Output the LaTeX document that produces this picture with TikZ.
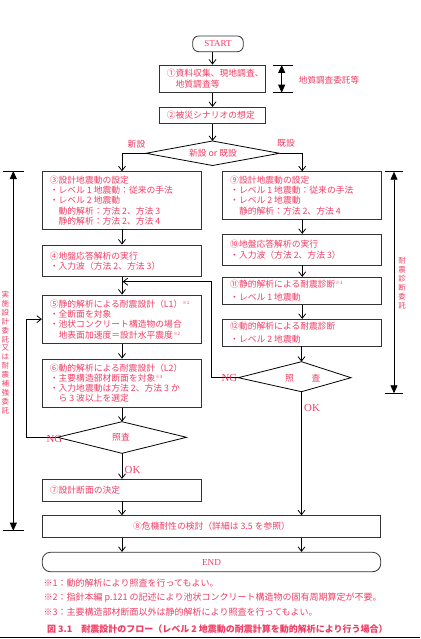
\documentclass[tikz,border=0pt]{standalone}
\usepackage{fontspec}
\setmainfont{Liberation Serif}
\newfontfamily\jp{Noto Sans CJK JP}
\usetikzlibrary{arrows.meta}
\definecolor{labred}{RGB}{240,60,100}
\newcommand{\kome}[1]{\raisebox{3pt}{\fontsize{4.5}{5}\selectfont ※#1}}

\tikzset{every picture/.style={line width=0.8pt}}

\begin{document}
\begin{tikzpicture}[x=1pt,y=1pt,yscale=-1,
  box/.style={draw=black!80, inner sep=0pt},
  txt/.style={text=labred, font=\jp\fontsize{8.8}{10.3}\selectfont, align=left, inner sep=0pt, anchor=west},
  lab/.style={text=labred, font=\jp\fontsize{8.8}{10.3}\selectfont, inner sep=0pt},
  okng/.style={text=labred, font=\fontsize{10.8}{12}\selectfont, inner sep=0pt},
  vlab/.style={text=labred, font=\jp\fontsize{7.5}{8.9}\selectfont, align=center, inner sep=0pt},
  flow/.style={-{Straight Barb[length=4.5pt,width=7pt]}},
  dim/.style={{Triangle[length=8pt,width=7pt]}-{Triangle[length=8pt,width=7pt]}}]
\useasboundingbox (0,0) rectangle (420,639);

%Terminals
\node (start) [box, rounded corners=6pt, minimum width=50.6, minimum height=15.7, text=labred, font=\fontsize{9}{10}\selectfont] at (218,43.85) {START};
\node (end) [box, rounded corners=8pt, minimum width=338.4, minimum height=19.4, text=labred, font=\fontsize{9.2}{10}\selectfont] at (211.5,562) {END};

%Process boxes
\node (b1) [box, minimum width=106.4, minimum height=27.7] at (212.5,78.85) {};
\node (b2) [box, minimum width=106.4, minimum height=16] at (212.5,115.3) {};
\node (b3) [box, minimum width=159.4, minimum height=57.3] at (122,200.35) {};
\node (b4) [box, minimum width=159.4, minimum height=31.7] at (122,260.85) {};
\node (b5) [box, minimum width=159.4, minimum height=48.3] at (122,319.15) {};
\node (b6) [box, minimum width=159.4, minimum height=48.3] at (122,383.15) {};
\node (b7) [box, minimum width=159.4, minimum height=21.7] at (122,490.15) {};
\node (b8) [box, minimum width=338.4, minimum height=21.6, text=labred, font=\jp\fontsize{8.8}{10.3}\selectfont] at (211.5,526.5) {⑧危機耐性の検討（詳細は 3.5 を参照）};
\node (b9) [box, minimum width=159, minimum height=47.3] at (302.2,195.35) {};
\node (b10) [box, minimum width=159, minimum height=30.7] at (302.2,249.65) {};
\node (b11) [box, minimum width=159, minimum height=27] at (302.2,290.8) {};
\node (b12) [box, minimum width=159, minimum height=26.7] at (302.2,332.65) {};

% Text Node
\node (t1) [txt] at ([xshift=7.5pt]b1.west) {①資料収集、現地調査、\\[0.7pt]　地質調査等};
\node (t2) [txt] at ([xshift=7.5pt]b2.west) {②被災シナリオの想定};
\node (t3) [txt] at ([xshift=7.5pt]b3.west) {③設計地震動の設定\\・レベル 1 地震動：従来の手法\\・レベル 2 地震動\\　動的解析：方法 2、方法 3\\　静的解析：方法 2、方法 4};
\node (t4) [txt] at ([xshift=7.5pt]b4.west) {④地盤応答解析の実行\\・入力波（方法 2、方法 3）};
\node (t5) [txt] at ([xshift=7.5pt]b5.west) {⑤静的解析による耐震設計（L1）\kome{1}\\・全断面を対象\\・池状コンクリート構造物の場合\\　地表面加速度＝設計水平震度\kome{2}};
\node (t6) [txt] at ([xshift=7.5pt]b6.west) {⑥動的解析による耐震設計（L2）\\・主要構造部材断面を対象\kome{3}\\・入力地震動は方法 2、方法 3 か\\　ら 3 波以上を選定};
\node (t7) [txt] at ([xshift=7.5pt]b7.west) {⑦設計断面の決定};
\node (t9) [txt] at ([xshift=7.5pt]b9.west) {⑨設計地震動の設定\\・レベル 1 地震動：従来の手法\\・レベル 2 地震動\\　静的解析：方法 2、方法 4};
\node (t10) [txt] at ([xshift=7.5pt]b10.west) {⑩地盤応答解析の実行\\[1.3pt]・入力波（方法 2、方法 3）};
\node (t11) [txt] at ([xshift=7.5pt]b11.west) {⑪静的解析による耐震診断\kome{1}\\[3pt]・レベル 1 地震動};
\node (t12) [txt] at ([xshift=7.5pt]b12.west) {⑫動的解析による耐震診断\\[2pt]・レベル 2 地震動};

%Decisions
\coordinate (d0n) at (212.5,141); \coordinate (d0e) at (279.5,153.3);
\coordinate (d0s) at (212.5,165.5); \coordinate (d0w) at (146,153.3);
\draw (d0n) -- (d0e) -- (d0s) -- (d0w) -- cycle;
\node (l0) [lab] at (213,153.3) {新設 or 既設};
\coordinate (d1n) at (122,421.7); \coordinate (d1e) at (186.5,437.3);
\coordinate (d1s) at (122,453.3); \coordinate (d1w) at (57.5,437.3);
\draw (d1n) -- (d1e) -- (d1s) -- (d1w) -- cycle;
\node (l1) [lab] at (121,437.3) {照査};
\coordinate (d2n) at (301.5,361.7); \coordinate (d2e) at (351,377.7);
\coordinate (d2s) at (301.5,391.7); \coordinate (d2w) at (238.3,377.7);
\draw (d2n) -- (d2e) -- (d2s) -- (d2w) -- cycle;
\node (l2) [lab] at (302.8,377.7) {照　　査};

%Connectors
\draw[flow] (start.south -| b1.north) -- (b1.north);
\draw[flow] (b1.south) -- (b2.north);
\draw[flow] (b2.south) -- (d0n);
\draw[flow] (d0w) -| (b3.north);
\draw[flow] (d0e) -| (b9.north);
\draw[flow] (b3.south) -- (b4.north);
\draw[flow] (b4.south) -- (b5.north);
\draw[flow] (b5.south) -- (b6.north);
\draw[flow] (b6.south) -- (d1n);
\draw[flow] (d1s) -- (b7.north);
\draw[flow] (b7.south) -- (b7.south |- b8.north);
\coordinate (r1) at (26.7,437.3);
\draw[flow] (d1w) -- (r1) |- (b5.west);
\draw[flow] (b9.south) -- (b10.north);
\draw[flow] (b10.south) -- (b11.north);
\draw[flow] (b11.south) -- (b12.north);
\draw[flow] (b12.south -| d2n) -- (d2n);
\draw[flow] (d2s) -- (d2s |- b8.north);
\coordinate (r2) at (211.7,377.7);
\coordinate (j4) at (122.6,281.7);
\draw[flow] (d2w) -- (r2) |- (j4);
\draw[flow] (b8.south -| b7.south) -- (end.north -| b7.south);
\draw[flow] (b8.south -| d2s) -- (end.north -| d2s);

% Text Node
\node (n0) [lab] at (136.5,144) {新設};
\node (n1) [lab] at (286,143.5) {既設};
\node (ng1) [okng] at (54.3,439) {NG};
\node (ok1) [okng] at (132.5,470) {OK};
\node (ng2) [okng] at (229.3,377.5) {NG};
\node (ok2) [okng] at (312,408) {OK};

%Brackets
\coordinate (k1t) at (281.7,65); \coordinate (k1b) at (281.7,92.7);
\draw[dim] (k1t) -- (k1b);
\draw ([xshift=-8.7pt]k1t) -- ([xshift=11pt]k1t);
\draw ([xshift=-8.7pt]k1b) -- ([xshift=11pt]k1b);
\node (g1) [lab, font=\jp\fontsize{8.6}{10}\selectfont] at (329,80) {地質調査委託等};
\coordinate (k2t) at (13.3,171); \coordinate (k2b) at (13.3,530.7);
\draw[dim] (k2t) -- (k2b);
\draw ([xshift=-10pt]k2t) -- ([xshift=10.7pt]k2t);
\draw ([xshift=-10pt]k2b) -- ([xshift=10.7pt]k2b);
\node (g2) [vlab] at (5.5,352.5) {実\\施\\設\\計\\委\\託\\又\\は\\耐\\震\\補\\強\\委\\託};
\coordinate (k3t) at (394,171.7); \coordinate (k3b) at (394,393.3);
\draw[dim] (k3t) -- (k3b);
\draw ([xshift=-9pt]k3t) -- ([xshift=9.3pt]k3t);
\draw ([xshift=-9pt]k3b) -- ([xshift=9.3pt]k3b);
\node (g3) [vlab] at (402,283.3) {耐\\震\\診\\断\\委\\託};

%Notes
\node (f1) [txt, font=\jp\fontsize{9}{10}\selectfont] at (43.3,582.7) {※1：動的解析により照査を行ってもよい。};
\node (f2) [txt, font=\jp\fontsize{9}{10}\selectfont] at (43.3,597.3) {※2：指針本編 p.121 の記述により池状コンクリート構造物の固有周期算定が不要。};
\node (f3) [txt, font=\jp\fontsize{9}{10}\selectfont] at (43.3,612.3) {※3：主要構造部材断面以外は静的解析により照査を行ってもよい。};
\node (cap) [txt, font=\jp\bfseries\fontsize{9}{10}\selectfont] at (46.7,629.3) {図 3.1　耐震設計のフロー（レベル 2 地震動の耐震計算を動的解析により行う場合）};
\draw[line width=1.2pt] (0,637.8) -- (420,637.8);
\end{tikzpicture}
\end{document}
